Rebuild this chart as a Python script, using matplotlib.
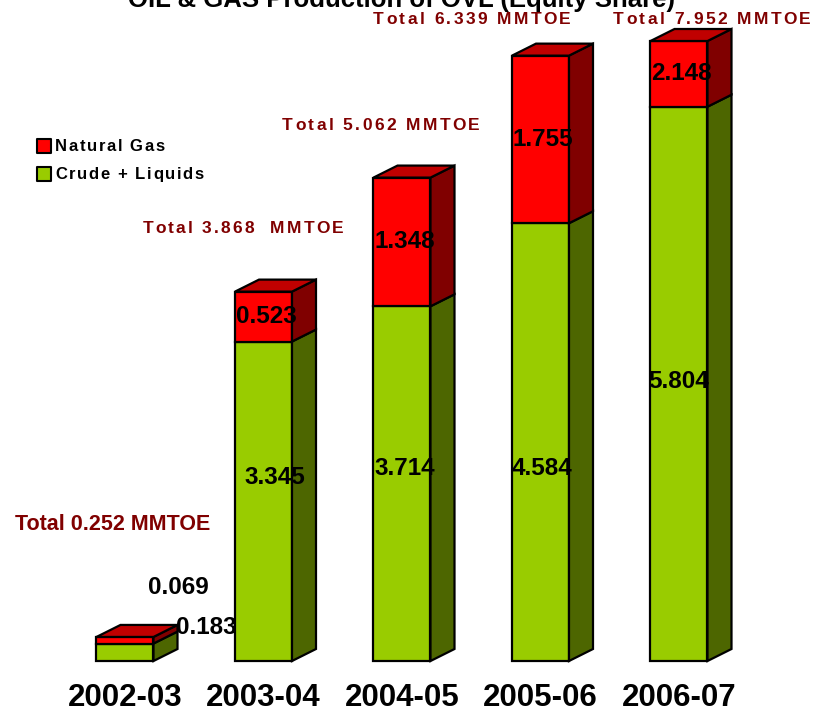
import matplotlib.pyplot as plt
from matplotlib.patches import Polygon
from matplotlib.textpath import TextToPath
from matplotlib.font_manager import FontProperties
from matplotlib.transforms import offset_copy

# Data (MMTOE)
years = ['2002-03', '2003-04', '2004-05', '2005-06', '2006-07']
crude = [0.183, 3.345, 3.714, 4.584, 5.804]
gas = [0.069, 0.523, 1.348, 1.755, 2.148]
totals = ['0.252', '3.868', '5.062', '6.339', '7.952']
legend_labels = ['Natural Gas', 'Crude + Liquids']

# Colours
green_front, green_side = '#99CC00', '#4D6600'
red_front, red_top, red_side = '#FF0000', '#C00000', '#800000'
total_col = '#800000'

plt.rcParams['font.family'] = ['Liberation Sans', 'DejaVu Sans']

fig = plt.figure(figsize=(8.16, 7.13), dpi=100)
ax = fig.add_axes([0, 0, 1, 1])
ax.axis('off')

# one category step = 138.5 px, one unit = 95.5 px, baseline at pixel row 661
xstep, yunit = 138.5, 95.5
ax.set_xlim(-125 / xstep, (816 - 125) / xstep)
ax.set_ylim(-(713 - 661) / yunit, 661 / yunit)
ymax = (661 - 41) / yunit   # top of the visible plot area (bars are cut here)


def px(x, y):
    return (x - 125) / xstep, (661 - y) / yunit


w = 57 / xstep
dx, dy = 24 / xstep, 12 / yunit


def face(pts, color):
    ax.add_patch(Polygon(pts, closed=True, facecolor=color, edgecolor='black',
                         lw=1.6, joinstyle='miter'))


for i in range(len(years)):
    x0, x1 = i - w / 2, i + w / 2
    g = crude[i]
    t = min(crude[i] + gas[i], ymax)
    # crude part
    face([(x0, 0), (x1, 0), (x1, g), (x0, g)], green_front)
    face([(x1, 0), (x1 + dx, dy), (x1 + dx, g + dy), (x1, g)], green_side)
    # gas part
    face([(x0, g), (x1, g), (x1, t), (x0, t)], red_front)
    face([(x1, g), (x1 + dx, g + dy), (x1 + dx, t + dy), (x1, t)], red_side)
    face([(x0, t), (x1, t), (x1 + dx, t + dy), (x0 + dx, t + dy)], red_top)

# value labels
vfont = dict(fontsize=17.5, fontweight='bold', color='black', ha='center', va='center')
green_label_y = [None, 477, 468, 468, 381]
green_label_dx = [0, 0.08, 0.02, 0.01, 0.0]
for i in range(1, len(years)):
    g = crude[i]
    t = min(crude[i] + gas[i], ymax)
    ax.text(i + 0.02, (g + t) / 2, f'{gas[i]:.3f}', **vfont)
    ax.text(i + green_label_dx[i], px(0, green_label_y[i])[1], f'{crude[i]:.3f}', **vfont)
ax.text(*px(178, 587), f'{gas[0]:.3f}', **vfont)
ax.text(*px(206, 628), f'{crude[0]:.3f}', **vfont)

# category labels
for i, yr in enumerate(years):
    ax.text(i, px(0, 698)[1], yr, fontsize=22.5, fontweight='bold',
            ha='center', va='center')


def tracked(x, y, s, size, color, spacing, ha='center'):
    """draw bold text at (x, y) px with extra letter spacing (px)"""
    prop = FontProperties(family='Liberation Sans', weight='bold', size=size)
    conv = TextToPath()
    ws = [conv.get_text_width_height_descent(ch, prop, ismath=False)[0] * fig.dpi / 72
          for ch in s]
    total = sum(ws) + spacing * (len(s) - 1)
    cx, cy = px(x, y)
    off = -total / 2 if ha == 'center' else 0
    for ch, wch in zip(s, ws):
        tr = offset_copy(ax.transData, fig=fig, x=off, y=0, units='dots')
        ax.text(cx, cy, ch, transform=tr, fontproperties=prop, color=color,
                ha='left', va='center')
        off += wch + spacing


# totals
ax.text(*px(113, 524), f'Total {totals[0]} MMTOE', fontsize=15.5, fontweight='bold',
        color=total_col, ha='center', va='center')
tracked(243, 228, f'Total {totals[1]}  MMTOE', 12.5, total_col, 2.2)
tracked(381, 126, f'Total {totals[2]} MMTOE', 12.5, total_col, 2.4)
tracked(472, 19, f'Total {totals[3]} MMTOE', 12.5, total_col, 2.4)
tracked(712, 19, f'Total {totals[4]} MMTOE', 12.5, total_col, 2.4)

# legend
for lbl, col, yy in zip(legend_labels, [red_front, green_front], [146, 174]):
    ax.scatter(*px(43.5, yy), marker='s', s=95, facecolor=col, edgecolor='black',
               linewidths=1.5, zorder=5)
    tracked(55, yy, lbl, 12, 'black', 1.6, ha='left')

# title (cut by the top edge, as in the original)
fig.text(402 / 816, 1 - 7 / 713, 'OIL & GAS Production of OVL (Equity Share)',
         fontsize=18.5, fontweight='bold', ha='center', va='baseline')

fig.savefig('out.png', dpi=100)
